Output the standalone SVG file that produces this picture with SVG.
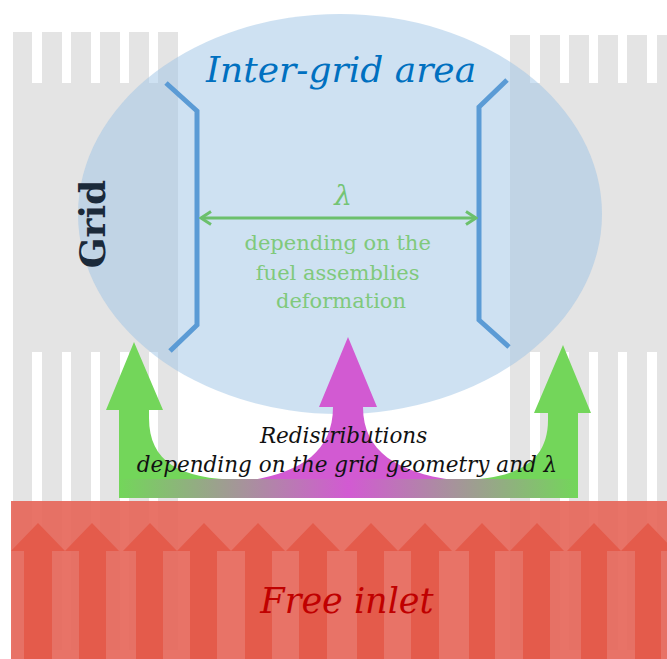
<svg xmlns="http://www.w3.org/2000/svg" width="667" height="659" viewBox="0 0 667 659">
<style>
.grid{fill:#e4e4e4}
.slot{fill:#ffffff}
.band-arrow{fill:#e45b4b}
.bracket{fill:none;stroke:#5b9bd5;stroke-width:5}
.serif{font-family:"DejaVu Serif","Liberation Serif",serif}
</style>
<defs>
<linearGradient id="flow" x1="119" y1="0" x2="578" y2="0" gradientUnits="userSpaceOnUse">
<stop offset="0" stop-color="#73d65a"/>
<stop offset="0.5" stop-color="#d25ad2"/>
<stop offset="1" stop-color="#73d65a"/>
</linearGradient>
<marker id="chev" viewBox="0 0 14 16" refX="12" refY="8" markerWidth="14" markerHeight="16" markerUnits="userSpaceOnUse" orient="auto-start-reverse">
<polyline points="2,1.5 12,8 2,14.5" fill="none" stroke="#6cc06c" stroke-width="3"/>
</marker>
</defs>
<rect width="667" height="659" fill="#ffffff"/>

<g id="grid-left">
<rect class="grid" x="13" y="32" width="165" height="618"/>
<g class="slot">
<rect x="32" y="32" width="10" height="51"/><rect x="62" y="32" width="9" height="51"/><rect x="91" y="32" width="9" height="51"/><rect x="120" y="32" width="9" height="51"/><rect x="149" y="32" width="9" height="51"/>
<rect x="32" y="352" width="10" height="298"/><rect x="62" y="352" width="9" height="298"/><rect x="91" y="352" width="9" height="298"/><rect x="120" y="352" width="9" height="298"/><rect x="149" y="352" width="9" height="298"/>
</g>
</g>

<g id="grid-right">
<rect class="grid" x="510" y="35" width="157" height="615"/>
<g class="slot">
<rect x="530" y="35" width="10" height="48"/><rect x="560" y="35" width="9" height="48"/><rect x="589" y="35" width="9" height="48"/><rect x="618" y="35" width="9" height="48"/><rect x="647" y="35" width="10" height="48"/>
<rect x="530" y="352" width="10" height="298"/><rect x="560" y="352" width="9" height="298"/><rect x="589" y="352" width="9" height="298"/><rect x="618" y="352" width="9" height="298"/><rect x="647" y="352" width="10" height="298"/>
</g>
</g>

<g id="free-inlet">
<rect x="11" y="501" width="656" height="158" fill="#e6675a" opacity="0.92"/>
<g class="band-arrow">
<path d="M11,551 L38,523 L65,551 L52,551 L52,659 L24,659 L24,551 Z"/>
<path d="M65,551 L92,523 L119,551 L106,551 L106,659 L79,659 L79,551 Z"/>
<path d="M123,551 L150,523 L177,551 L163,551 L163,659 L136,659 L136,551 Z"/>
<path d="M177,551 L204,523 L231,551 L217,551 L217,659 L190,659 L190,551 Z"/>
<path d="M231,551 L258,523 L285,551 L272,551 L272,659 L245,659 L245,551 Z"/>
<path d="M286,551 L313,523 L340,551 L327,551 L327,659 L299,659 L299,551 Z"/>
<path d="M344,551 L371,523 L398,551 L384,551 L384,659 L357,659 L357,551 Z"/>
<path d="M398,551 L425,523 L452,551 L439,551 L439,659 L411,659 L411,551 Z"/>
<path d="M455,551 L482,523 L509,551 L495,551 L495,659 L469,659 L469,551 Z"/>
<path d="M510,551 L537,523 L564,551 L550,551 L550,659 L523,659 L523,551 Z"/>
<path d="M567,551 L594,523 L621,551 L607,551 L607,659 L581,659 L581,551 Z"/>
<path d="M621,551 L648,523 L675,551 L661,551 L661,659 L635,659 L635,551 Z"/>
</g>
<text class="serif" x="347" y="613" text-anchor="middle" font-size="35" font-style="italic" fill="#c00000">Free inlet</text>
</g>

<g id="inter-grid-area">
<ellipse cx="340" cy="214" rx="262" ry="200" fill="#9dc3e6" opacity="0.5"/>
<polyline class="bracket" points="166,83 197,111 197,325 170,351"/>
<polyline class="bracket" points="507,80 479,107 479,320 509,347"/>
<text class="serif" x="341" y="82" text-anchor="middle" font-size="36" font-style="italic" fill="#0070c0">Inter-grid area</text>
<text class="serif" transform="translate(105,224) rotate(-90)" text-anchor="middle" font-size="36" font-weight="bold" fill="#1b2a3a">Grid</text>
</g>

<g id="connectors">
<line x1="201" y1="218" x2="476" y2="218" stroke="#6cc06c" stroke-width="3" marker-start="url(#chev)" marker-end="url(#chev)"/>
</g>

<g id="lambda-label">
<text class="serif" x="343" y="205" text-anchor="middle" font-size="28" font-style="italic" fill="#74c474">λ</text>
<text class="serif" text-anchor="middle" font-size="21" fill="#80c97c">
<tspan x="341" y="250">depending on the</tspan>
<tspan x="341" y="280">fuel assemblies</tspan>
<tspan x="341" y="308">deformation</tspan>
</text>
</g>

<g id="redistribution-flows">
<path d="M119,480 L119,410 L106,410 L134,342 L163,410 L149,410 L149,418 C149,462 180,479 240,480 Z" fill="#73d65a"/>
<path d="M578,480 L578,413 L591,413 L563,345 L534,413 L548,413 L548,420 C548,462 517,479 460,480 Z" fill="#73d65a"/>
<path d="M252,480 C300,472 333,452 333,407 L319,407 L348,337 L377,407 L363,407 C363,452 398,472 452,480 Z" fill="#d25ad2"/>
<rect x="119" y="479" width="459" height="19" fill="url(#flow)"/>
<text class="serif" text-anchor="middle" font-size="21.5" font-style="italic" fill="#111111">
<tspan x="347" y="443">Redistributions</tspan>
<tspan x="347" y="472">depending on the grid geometry and λ</tspan>
</text>
</g>
</svg>
